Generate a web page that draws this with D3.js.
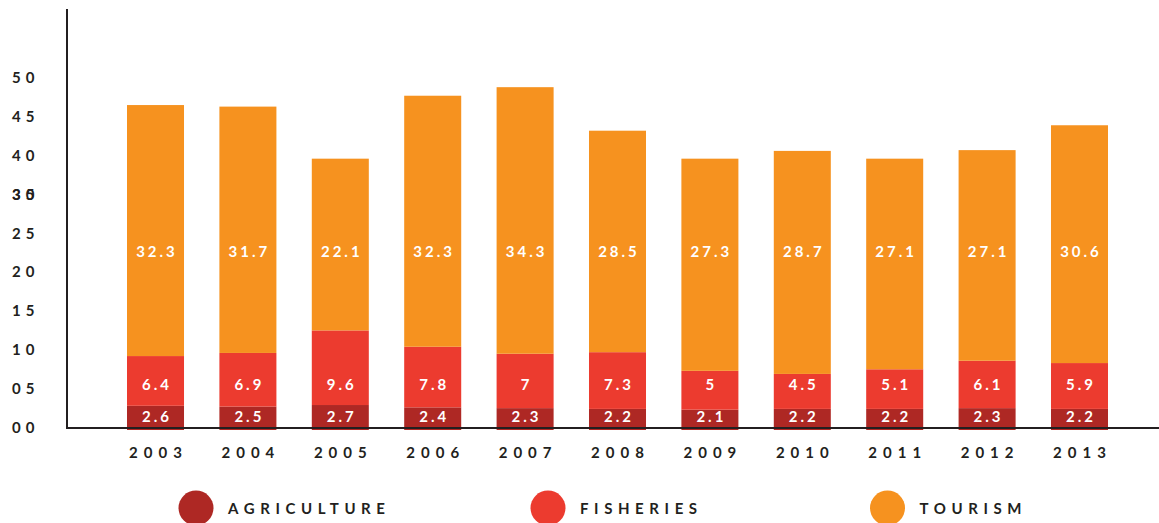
<!DOCTYPE html>
<html><head><meta charset="utf-8">
<script src="https://cdn.jsdelivr.net/npm/d3@7"></script>
<style>
html,body{margin:0;padding:0;background:#fff;}
text{font-family:Lato,"Open Sans",sans-serif;font-weight:700;}
</style></head>
<body>
<svg id="chart" width="1159" height="523"></svg>
<script>
const years = ["2003","2004","2005","2006","2007","2008","2009","2010","2011","2012","2013"];
const agriculture = [2.6, 2.5, 2.7, 2.4, 2.3, 2.2, 2.1, 2.2, 2.2, 2.3, 2.2];
const fisheries = [6.4, 6.9, 9.6, 7.8, 7, 7.3, 5, 4.5, 5.1, 6.1, 5.9];
const tourism = [32.3, 31.7, 22.1, 32.3, 34.3, 28.5, 27.3, 28.7, 27.1, 27.1, 30.6];
const seriesNames = ["AGRICULTURE","FISHERIES","TOURISM"];
const tickValues = [0,5,10,15,20,25,30,30,35,40,45];
const tickLabels = ["00","05","10","15","20","25","30","35","40","45","50"];

const colors = {AGRICULTURE:"#ae2824", FISHERIES:"#ec3b2f", TOURISM:"#f6921f"};
const ink = "#231f20";

const svg = d3.select("#chart");
const x = d3.scaleBand().domain(years).range([80.8, 1154.2]).paddingInner(0.383).paddingOuter(0.5);
const y = d3.scaleLinear().domain([0, 45]).range([426, 76.3]);

const rows = years.map((yr,i)=>({year:yr, AGRICULTURE:agriculture[i], FISHERIES:fisheries[i], TOURISM:tourism[i]}));
const stack = d3.stack().keys(seriesNames)(rows);

// label rows (fixed in the original)
const labelRow = {AGRICULTURE: y(1.2), FISHERIES: y(5.35), TOURISM: y(22.45)};

const g = svg.append("g");
stack.forEach(layer=>{
  g.selectAll(null).data(layer).enter().append("rect")
    .attr("x", d=>x(d.data.year))
    .attr("width", x.bandwidth())
    .attr("y", d=>y(d[1]))
    .attr("height", d=>(d[0]===0 ? y(0)+4 : y(d[0]))-y(d[1]))
    .attr("fill", colors[layer.key]);
});
stack.forEach(layer=>{
  g.selectAll(null).data(layer).enter().append("text")
    .attr("x", d=>x(d.data.year)+x.bandwidth()/2 + 1.5)
    .attr("y", labelRow[layer.key])
    .attr("dy","0.36em")
    .attr("text-anchor","middle")
    .attr("fill","#fff")
    .attr("font-size",15)
    .attr("letter-spacing",3)
    .text(d=>d.data[layer.key]);
});

// axes lines
svg.append("line").attr("x1",67).attr("x2",67).attr("y1",9).attr("y2",429).attr("stroke",ink).attr("stroke-width",2);
svg.append("line").attr("x1",66).attr("x2",1159).attr("y1",428).attr("y2",428).attr("stroke",ink).attr("stroke-width",2);

// y tick labels
svg.selectAll(null).data(tickValues).enter().append("text")
  .attr("x",12).attr("y",d=>y(d)+1.5).attr("dy","0.36em")
  .attr("fill",ink).attr("font-size",15).attr("letter-spacing",5)
  .text((d,i)=>tickLabels[i]);

// x labels
svg.selectAll(null).data(years).enter().append("text")
  .attr("x",d=>x(d)+x.bandwidth()/2+3).attr("y",453).attr("dy","0.36em")
  .attr("text-anchor","middle").attr("fill",ink).attr("font-size",15).attr("letter-spacing",6)
  .text(d=>d);

// legend
const legendX = [196, 548, 887.5];
const lg = svg.selectAll(null).data(seriesNames).enter().append("g")
  .attr("transform",(d,i)=>`translate(${legendX[i]},508)`);
lg.append("circle").attr("r",17.5).attr("fill",d=>colors[d]);
lg.append("text").attr("x",32).attr("y",1).attr("dy","0.36em")
  .attr("fill",ink).attr("font-size",15).attr("letter-spacing",5.6).text(d=>d);
</script>
</body></html>
